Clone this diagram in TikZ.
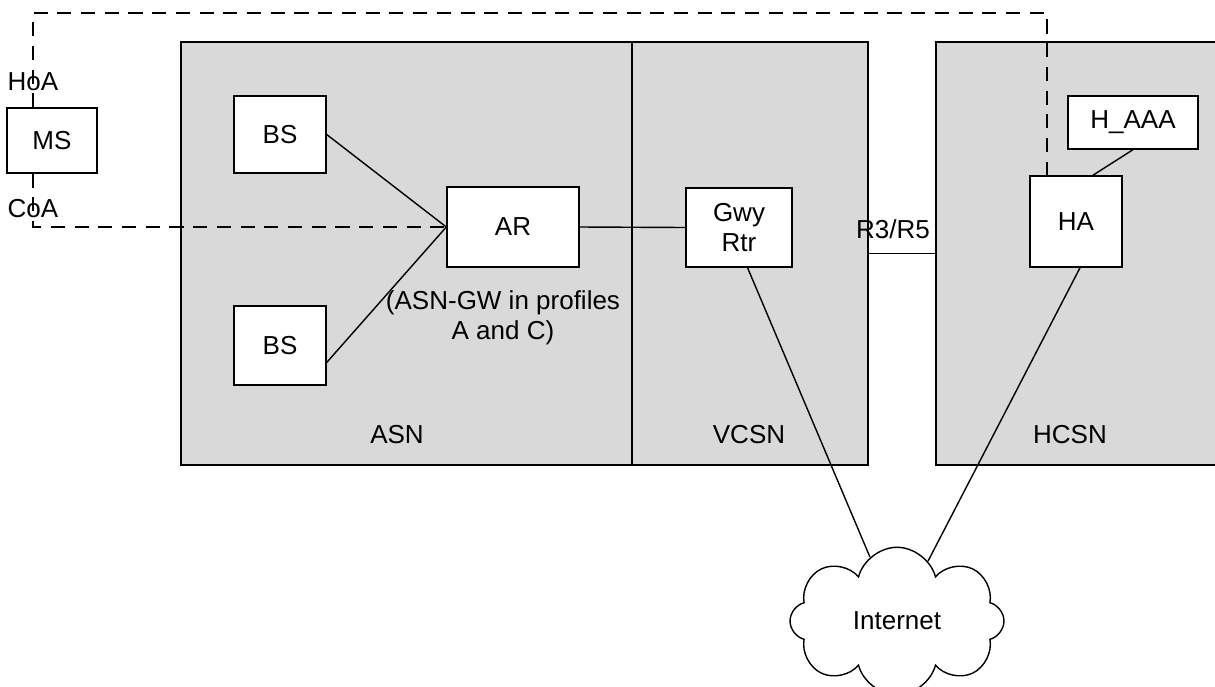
\documentclass[tikz,border=0pt]{standalone}
\usepackage{fontspec}
\setmainfont{Liberation Sans}
\usetikzlibrary{shapes.symbols}
\definecolor{regiongray}{RGB}{217,217,217}
\tikzset{
  box/.style={draw, fill=white, line width=0.8pt, inner sep=0pt, align=center},
  region/.style={draw, fill=regiongray, line width=0.8pt, inner sep=0pt, minimum height=8.46cm},
  link/.style={line width=0.8pt},
  tunnel/.style={line width=0.8pt, dash pattern=on 8pt off 5.5pt}
}
\begin{document}
\begin{tikzpicture}[x=0.02cm, y=-0.02cm, font=\fontsize{14.8}{17}\selectfont]
    \useasboundingbox (0,0) rectangle (1215,687);
    \clip (0,0) rectangle (1215,687);

    % Regions
    \node[region, minimum width=9.02cm] (asn) at (406.5,253.5) {};
    \node[region, minimum width=4.72cm] (vcsn) at (750,253.5) {};
    \node[region, minimum width=6.08cm] (hcsn) at (1088,253.5) {};
    \node (asn-lbl) at (397,435) {ASN};
    \node (vcsn-lbl) at (749,435) {VCSN};
    \node (hcsn-lbl) at (1070,435) {HCSN};

    % Nodes
    \node[box, minimum width=1.8cm, minimum height=1.3cm] (ms) at (52,140.5) {MS};
    \node[box, minimum width=1.84cm, minimum height=1.54cm] (bs1) at (280,134.5) {BS};
    \node[box, minimum width=1.84cm, minimum height=1.58cm] (bs2) at (280,345.5) {BS};
    \node[box, minimum width=2.64cm, minimum height=1.6cm] (ar) at (513,227) {AR};
    \node[box, minimum width=2.12cm, minimum height=1.58cm] (gwy) at (739,227.5) {Gwy\\Rtr};
    \node[box, minimum width=1.84cm, minimum height=1.82cm] (ha) at (1076,221.5) {HA};
    \node[box, minimum width=2.6cm, minimum height=1.06cm] (haaa) at (1133,122.5) {H\_AAA};
    \node[align=center] (ar-note) at (503,318) {(ASN-GW in profiles\\A and C)};
    \node[cloud, draw, line width=0.8pt, cloud puffs=8, aspect=1.5,
          minimum width=4.28cm, minimum height=2.95cm, inner sep=0pt] (inet) at (897,621) {Internet};

    % Lines
    \draw[link] (bs1.east) -- (ar.west);
    \draw[link] (bs2.-20) -- (ar.west);
    \draw[link] (ar.east) -- (gwy.west);
    \draw[link] (vcsn.east) -- (hcsn.west);
    \draw[link] (haaa.south) -- (ha.70);
    \draw[link] (gwy.-78) -- (inet);
    \draw[link] (ha.-85) -- (inet);
    \node (r3r5) at (893,229) {R3/R5};

    % Mobile IP tunnel
    \coordinate (ret) at (1047,13);
    \node (hoa) at (33,82) {HoA};
    \node (coa) at (33,209) {CoA};
    \draw[tunnel] (hoa.center |- ms.north) |- (ret) -- (ret |- ha.north);
    \draw[tunnel] (coa.center |- ms.south) |- (ar.west);

\end{tikzpicture}
\end{document}
